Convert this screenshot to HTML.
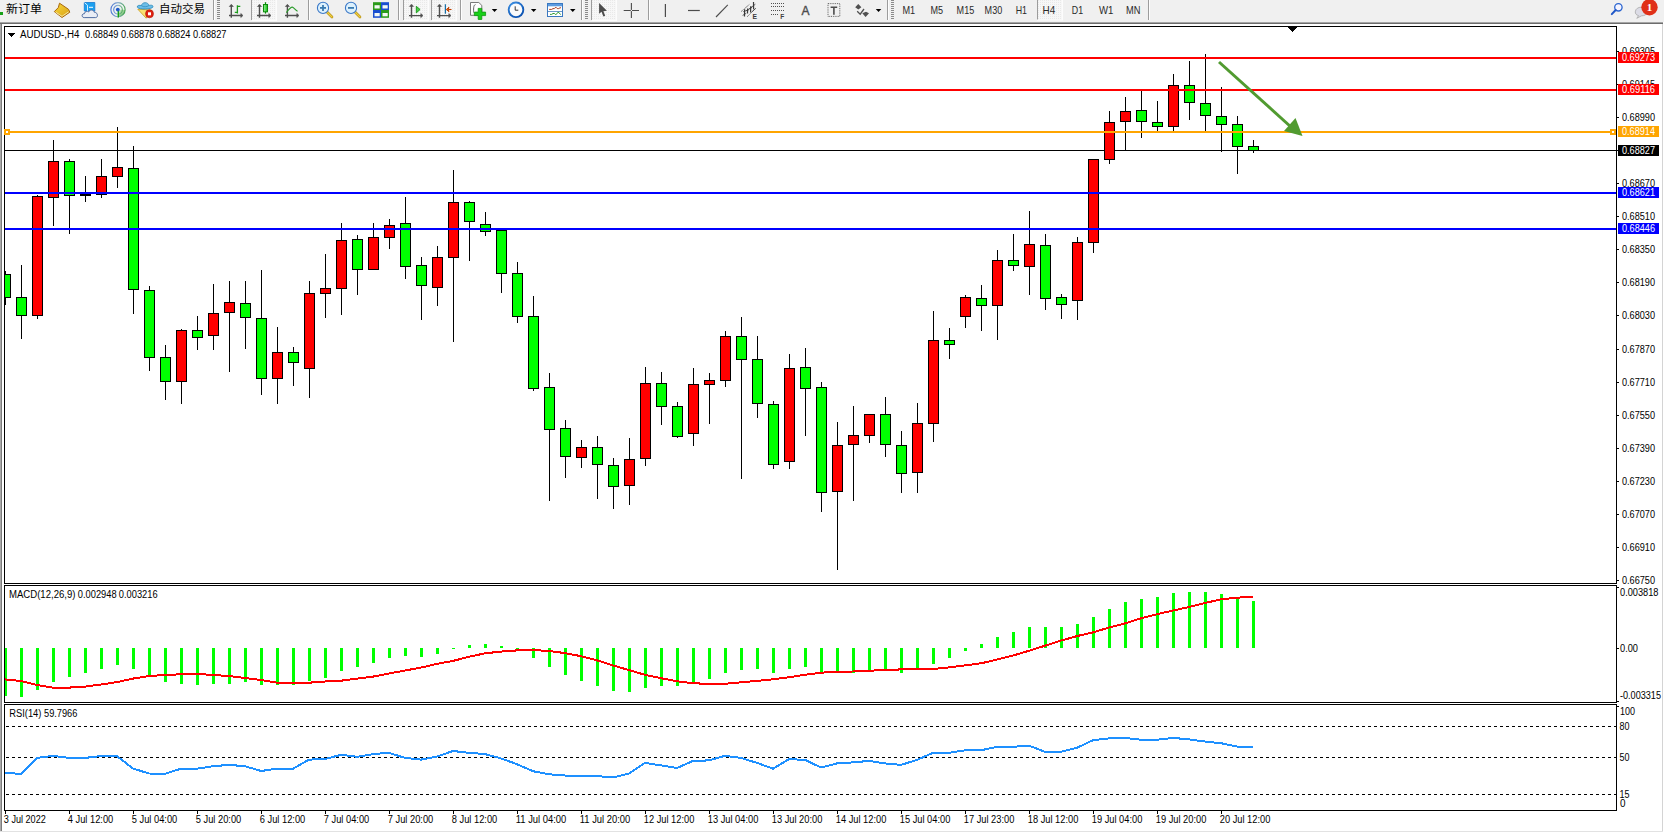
<!DOCTYPE html>
<html><head><meta charset="utf-8"><title>AUDUSD-,H4</title>
<style>
html,body{margin:0;padding:0;}
body{width:1664px;height:833px;overflow:hidden;background:#fff;position:relative;}
svg{position:absolute;left:0;top:0;display:block;}
svg text{font-family:"Liberation Sans","Noto Sans CJK SC",sans-serif;}
</style></head><body>
<svg width="1664" height="833" viewBox="0 0 1664 833" shape-rendering="crispEdges">
<defs>
<clipPath id="cm"><rect x="5" y="27" width="1611" height="556"/></clipPath>
<clipPath id="cmacd"><rect x="5" y="586" width="1611" height="116"/></clipPath>
<clipPath id="crsi"><rect x="5" y="705" width="1611" height="105"/></clipPath>
</defs>
<!-- window chrome -->
<rect x="0" y="0" width="1664" height="22" fill="#f0f0f0"/>
<rect x="0" y="22" width="1663" height="1" fill="#a5a5a5"/>
<rect x="0" y="23" width="1663" height="1" fill="#6c6c6c"/>
<rect x="0" y="24" width="1" height="807" fill="#a9a9a9"/>
<rect x="1" y="24" width="1" height="807" fill="#7c7c7c"/>
<rect x="1662" y="24" width="1" height="808" fill="#d4d4d4"/>
<rect x="0" y="831" width="1663" height="1" fill="#e2e2e2"/>
<g shape-rendering="auto">
<defs><pattern id="chk" width="2" height="2" patternUnits="userSpaceOnUse"><rect width="2" height="2" fill="#f7f7f7"/><rect width="1" height="1" fill="#e9e9e9"/></pattern><linearGradient id="gold" x1="0" y1="0" x2="1" y2="1"><stop offset="0" stop-color="#f8d838"/><stop offset="1" stop-color="#d8a018"/></linearGradient><linearGradient id="cand" x1="0" y1="0" x2="1" y2="0"><stop offset="0" stop-color="#9af09a"/><stop offset="1" stop-color="#10c010"/></linearGradient><radialGradient id="clk" cx="0.4" cy="0.35" r="0.7"><stop offset="0" stop-color="#5cb6ff"/><stop offset="1" stop-color="#0a50b0"/></radialGradient><radialGradient id="rad" cx="0.5" cy="0.5" r="0.5"><stop offset="0" stop-color="#eef4f8"/><stop offset="1" stop-color="#c9ddd0"/></radialGradient></defs>
<rect x="0" y="12" width="3" height="3" fill="#18a018"/>
<text x="6" y="13.3" font-size="11.5" fill="#000" textLength="36" lengthAdjust="spacingAndGlyphs" style="font-family:'Noto Sans CJK SC',sans-serif">新订单</text>
<path d="M59.5 3.2L68.5 9.3L69.8 12.2L62 17.5L54.3 11.6L58.3 7.6Z" fill="url(#gold)" stroke="#a8680e" stroke-width="1"/>
<path d="M55.5 12L62 16.3L68.6 11.8" stroke="#f6e6a0" stroke-width="1" fill="none"/>
<path d="M84.3 2.5H94.8V11H84.3Z" fill="#1aa0f0" stroke="#1478d0" stroke-width="0.8"/>
<path d="M84.5 2.7L87.5 5.2V11" stroke="#e6f6ff" stroke-width="0.9" fill="none"/>
<path d="M89 7.3H93" stroke="#ffffff" stroke-width="1"/>
<path d="M84.2 17.6C81.4 17.6 81.3 13.4 84.4 13.7C84.5 11.3 87.6 10.6 88.6 12C89.6 9.3 93.8 9.4 94.2 12.2C97.8 11.9 98.6 17.6 95.6 17.6Z" fill="#e9edf5" stroke="#3f5f98" stroke-width="0.9"/>
<defs><linearGradient id="rg" x1="0" y1="0" x2="1" y2="0"><stop offset="0" stop-color="#2d5fd0"/><stop offset="0.5" stop-color="#7aa0c8"/><stop offset="1" stop-color="#2f9a3c"/></linearGradient><linearGradient id="rq" x1="0" y1="0" x2="1" y2="1"><stop offset="0" stop-color="#d8efd4"/><stop offset="1" stop-color="#4cae4c"/></linearGradient></defs>
<circle cx="118" cy="9.7" r="7.3" fill="#eef3f1"/>
<path d="M118 9.7V17A7.3 7.3 0 0 0 125.3 9.7Z" fill="url(#rq)"/>
<circle cx="118" cy="9.7" r="7.1" fill="none" stroke="url(#rg)" stroke-width="1.1" opacity="0.85"/>
<circle cx="118" cy="9.7" r="4.3" fill="none" stroke="url(#rg)" stroke-width="1.1" opacity="0.75"/>
<path d="M118.3 10V17.4" stroke="#16a016" stroke-width="1.4"/>
<circle cx="117.8" cy="9.6" r="1.9" fill="#2058c8"/>
<path d="M137.8 9.2L146.2 18.2L151.5 10Z" fill="#f8e070" stroke="#c89a18" stroke-width="0.8"/>
<path d="M137.3 7.2C136.8 5.3 139.5 5 141.5 5.6C141.8 1.8 148.5 1.6 148.8 5.5C151.5 4.8 153.6 5.3 152.8 7.2C151.8 9.2 139 10 137.3 7.2Z" fill="#6cbde8" stroke="#2a88b8" stroke-width="0.8"/>
<path d="M141.6 5.8C143.5 7.2 147 7 148.8 5.6" stroke="#2a88b8" stroke-width="0.7" fill="none"/>
<circle cx="149.5" cy="13.8" r="4" fill="#e02010" stroke="#b01808" stroke-width="0.6"/>
<rect x="148" y="12.3" width="3" height="3" fill="#fff"/>
<text x="159" y="13.3" font-size="11.5" fill="#000" textLength="46" lengthAdjust="spacingAndGlyphs" style="font-family:'Noto Sans CJK SC',sans-serif">自动交易</text>
<rect x="213" y="0" width="1" height="20" fill="#9c9c9c"/>
<rect x="214" y="0" width="1" height="20" fill="#fdfdfd"/>
<rect x="217" y="0" width="3" height="1" fill="#8a8a8a"/>
<rect x="217" y="2" width="3" height="1" fill="#8a8a8a"/>
<rect x="217" y="4" width="3" height="1" fill="#8a8a8a"/>
<rect x="217" y="6" width="3" height="1" fill="#8a8a8a"/>
<rect x="217" y="8" width="3" height="1" fill="#8a8a8a"/>
<rect x="217" y="10" width="3" height="1" fill="#8a8a8a"/>
<rect x="217" y="12" width="3" height="1" fill="#8a8a8a"/>
<rect x="217" y="14" width="3" height="1" fill="#8a8a8a"/>
<rect x="217" y="16" width="3" height="1" fill="#8a8a8a"/>
<rect x="217" y="18" width="3" height="1" fill="#8a8a8a"/>
<path d="M231.3 5.3V17.8M229 15.5H242" stroke="#4f4f4f" stroke-width="1.4" fill="none"/>
<path d="M229.3 6.5L231.3 4.3L233.3 6.5Z" fill="#4f4f4f" stroke="#4f4f4f" stroke-width="0.6"/>
<path d="M240.8 13.5L243 15.5L240.8 17.5Z" fill="#4f4f4f" stroke="#4f4f4f" stroke-width="0.6"/>
<path d="M237.4 5.3V13.6M237.4 6.4H240.3M234.8 12.4H237.4" stroke="#1c9c1c" stroke-width="1.3" fill="none"/>
<rect x="251" y="0" width="1" height="20" fill="#9c9c9c"/>
<rect x="252" y="0" width="1" height="20" fill="#fdfdfd"/>
<rect x="252" y="0" width="24" height="20" fill="url(#chk)"/>
<rect x="252" y="20" width="25" height="1" fill="#fcfcfc"/>
<rect x="276" y="0" width="1" height="20" fill="#fcfcfc"/>
<path d="M259.5 5.3V17.8M257 15.5H270" stroke="#4f4f4f" stroke-width="1.4" fill="none"/>
<path d="M257.5 6.5L259.5 4.3L261.5 6.5Z" fill="#4f4f4f" stroke="#4f4f4f" stroke-width="0.6"/>
<path d="M268.8 13.5L271 15.5L268.8 17.5Z" fill="#4f4f4f" stroke="#4f4f4f" stroke-width="0.6"/>
<path d="M265.5 2.2V13.6" stroke="#0c8c0c" stroke-width="1.2"/>
<rect x="263.5" y="4.5" width="4" height="7.3" fill="url(#cand)" stroke="#0c8c0c" stroke-width="1"/>
<path d="M287.4 5.3V17.8M285 15.5H298" stroke="#4f4f4f" stroke-width="1.4" fill="none"/>
<path d="M285.4 6.5L287.4 4.3L289.4 6.5Z" fill="#4f4f4f" stroke="#4f4f4f" stroke-width="0.6"/>
<path d="M296.8 13.5L299 15.5L296.8 17.5Z" fill="#4f4f4f" stroke="#4f4f4f" stroke-width="0.6"/>
<path d="M286.3 12.6C288.5 10 290.5 6.8 292.3 7.1C294.2 7.4 295.5 10.6 297.6 11.3" stroke="#2c9c2c" stroke-width="1.1" fill="none"/>
<rect x="308" y="0" width="1" height="20" fill="#9c9c9c"/>
<rect x="309" y="0" width="1" height="20" fill="#fdfdfd"/>
<path d="M326.5 11.5L332 17" stroke="#b08a10" stroke-width="2.6" stroke-linecap="round"/>
<path d="M326.5 11.5L332 17" stroke="#f0d040" stroke-width="1.4" stroke-linecap="round"/>
<circle cx="323" cy="7.9" r="5.6" fill="#dcf0fc" stroke="#3a78c8" stroke-width="1.1"/>
<path d="M320 7.9H326" stroke="#3a7ab0" stroke-width="1.8"/>
<path d="M323 4.9V10.9" stroke="#3a7ab0" stroke-width="1.8"/>
<path d="M354.5 11.5L360 17" stroke="#b08a10" stroke-width="2.6" stroke-linecap="round"/>
<path d="M354.5 11.5L360 17" stroke="#f0d040" stroke-width="1.4" stroke-linecap="round"/>
<circle cx="351" cy="7.9" r="5.6" fill="#dcf0fc" stroke="#3a78c8" stroke-width="1.1"/>
<path d="M348 7.9H354" stroke="#3a7ab0" stroke-width="1.8"/>
<rect x="373" y="2.2" width="8" height="7.8" fill="#2a9a1a"/><rect x="381" y="2.2" width="8" height="7.8" fill="#1a4ed0"/>
<rect x="373" y="10" width="8" height="7.8" fill="#1a4ed0"/><rect x="381" y="10" width="8" height="7.8" fill="#2a9a1a"/>
<rect x="374.5" y="5.2" width="5.2" height="3.3" fill="#f4f8f4"/>
<rect x="382.5" y="5.2" width="5.2" height="3.3" fill="#f4f8f4"/>
<rect x="374.5" y="13" width="5.2" height="3.3" fill="#f4f8f4"/>
<rect x="382.5" y="13" width="5.2" height="3.3" fill="#f4f8f4"/>
<rect x="398" y="0" width="1" height="20" fill="#9c9c9c"/>
<rect x="399" y="0" width="1" height="20" fill="#fdfdfd"/>
<rect x="403" y="0" width="1" height="20" fill="#9c9c9c"/>
<rect x="404" y="0" width="1" height="20" fill="#fdfdfd"/>
<rect x="404" y="0" width="24" height="20" fill="url(#chk)"/>
<rect x="404" y="20" width="25" height="1" fill="#fcfcfc"/>
<rect x="428" y="0" width="1" height="20" fill="#fcfcfc"/>
<path d="M411.5 5.2V17.8M409 15.6H422" stroke="#4f4f4f" stroke-width="1.4" fill="none"/>
<path d="M409.5 6.4L411.5 4.2L413.5 6.4Z" fill="#4f4f4f" stroke="#4f4f4f" stroke-width="0.6"/>
<path d="M420.8 13.6L423 15.6L420.8 17.6Z" fill="#4f4f4f" stroke="#4f4f4f" stroke-width="0.6"/>
<path d="M416.3 6.3V12.9L420.1 9.5Z" fill="#48d048" stroke="#149414" stroke-width="0.9"/>
<rect x="431" y="0" width="1" height="20" fill="#9c9c9c"/>
<rect x="432" y="0" width="1" height="20" fill="#fdfdfd"/>
<rect x="432" y="0" width="24" height="20" fill="url(#chk)"/>
<rect x="432" y="20" width="25" height="1" fill="#fcfcfc"/>
<rect x="456" y="0" width="1" height="20" fill="#fcfcfc"/>
<path d="M439.5 5.2V17.8M437 15.6H450" stroke="#4f4f4f" stroke-width="1.4" fill="none"/>
<path d="M437.5 6.4L439.5 4.2L441.5 6.4Z" fill="#4f4f4f" stroke="#4f4f4f" stroke-width="0.6"/>
<path d="M448.8 13.6L451 15.6L448.8 17.6Z" fill="#4f4f4f" stroke="#4f4f4f" stroke-width="0.6"/>
<path d="M445.4 4.2V13.8" stroke="#1870a8" stroke-width="1.2"/>
<path d="M446.4 9.5L449 7.3L448.3 9.5H451.5M446.4 9.5L449 11.7L448.3 9.5" stroke="#c04000" stroke-width="1" fill="#f07020"/>
<rect x="460" y="0" width="1" height="20" fill="#9c9c9c"/>
<rect x="461" y="0" width="1" height="20" fill="#fdfdfd"/>
<path d="M470.5 2.5H478.8L481.8 5.4V15.3H470.5Z" fill="#fdfdfd" stroke="#6a6a6a" stroke-width="0.9"/>
<path d="M473.5 12.5C473.8 10 473 5 475.5 4.6" stroke="#404040" stroke-width="0.8" fill="none"/>
<path d="M478.2 8.4H481.8V12.1H485.6V15.6H481.8V19.4H478.2V15.6H474.3V12.1H478.2Z" fill="#18d018" stroke="#0e960e" stroke-width="0.8"/>
<path d="M491.8 9H497.3L494.55 12Z" fill="#000"/>
<circle cx="516" cy="9.8" r="7.3" fill="#fbfbfb" stroke="url(#clk)" stroke-width="1.9"/>
<path d="M515.2 6.3V10.2H518.3" stroke="#202020" stroke-width="0.9" fill="none"/>
<path d="M530.9 9H536.4L533.65 12Z" fill="#000"/>
<rect x="547.5" y="3.5" width="15" height="13" fill="#fff" stroke="#3a78c0" stroke-width="1"/>
<rect x="548" y="4" width="14" height="2.3" fill="#5d9ce0"/>
<rect x="548" y="11" width="14" height="1" fill="#6a98c8"/>
<path d="M549.2 9.4H551.7L553 8.6H554.3L555.2 7.6H556.4L557.3 8.6H558.6L560 7.8H561" stroke="#a02a08" stroke-width="0.9" fill="none"/>
<path d="M550 14.4H551.6L553 13.5H554.4L555.3 14.4H556.3L557.8 12.4H558.8L560.6 14.6" stroke="#169016" stroke-width="0.9" fill="none"/>
<path d="M570 9H575.5L572.75 12Z" fill="#000"/>
<rect x="581" y="0" width="1" height="20" fill="#9c9c9c"/>
<rect x="582" y="0" width="1" height="20" fill="#fdfdfd"/>
<rect x="585" y="0" width="3" height="1" fill="#8a8a8a"/>
<rect x="585" y="2" width="3" height="1" fill="#8a8a8a"/>
<rect x="585" y="4" width="3" height="1" fill="#8a8a8a"/>
<rect x="585" y="6" width="3" height="1" fill="#8a8a8a"/>
<rect x="585" y="8" width="3" height="1" fill="#8a8a8a"/>
<rect x="585" y="10" width="3" height="1" fill="#8a8a8a"/>
<rect x="585" y="12" width="3" height="1" fill="#8a8a8a"/>
<rect x="585" y="14" width="3" height="1" fill="#8a8a8a"/>
<rect x="585" y="16" width="3" height="1" fill="#8a8a8a"/>
<rect x="585" y="18" width="3" height="1" fill="#8a8a8a"/>
<rect x="591" y="0" width="1" height="20" fill="#9c9c9c"/>
<rect x="592" y="0" width="1" height="20" fill="#fdfdfd"/>
<rect x="592" y="0" width="24" height="20" fill="url(#chk)"/>
<rect x="592" y="20" width="25" height="1" fill="#fcfcfc"/>
<rect x="616" y="0" width="1" height="20" fill="#fcfcfc"/>
<path d="M599.1 2.9V13.8L601.5 11.8L603.4 16.6L605.2 15.8L603.4 11.2L606.9 10.8Z" fill="#4c4c4c"/>
<path d="M631.4 3V18M623.7 10.5H639" stroke="#4c4c4c" stroke-width="1.1"/>
<rect x="630.8" y="9.9" width="1.2" height="1.2" fill="#f0f0f0"/>
<rect x="648" y="0" width="1" height="20" fill="#9c9c9c"/>
<rect x="649" y="0" width="1" height="20" fill="#fdfdfd"/>
<path d="M665.4 4V17" stroke="#4c4c4c" stroke-width="1.2"/>
<path d="M688 10.5H699.8" stroke="#4c4c4c" stroke-width="1.2"/>
<path d="M716 17L727.8 4.9" stroke="#4c4c4c" stroke-width="1.1"/>
<path d="M741.3 11.4L749.7 4.2M747.3 16.6L755.8 8.3" stroke="#3a3a3a" stroke-width="0.9" stroke-dasharray="0.9 0.7" fill="none"/>
<path d="M744.5 16.6L744.6 9.3M747.5 13.6L747.6 8.4M750.6 12.6L750.7 6.2M753.6 9.2L753.5 2.1" stroke="#3a3a3a" stroke-width="1.2" fill="none"/>
<path d="M742.6 15.4L746.2 13.3M743.3 11.6L748.9 9.8M746.3 10.6L752.2 7.2M749.4 8.7L755.4 4.2M751.7 12L755.6 8.4" stroke="#3a3a3a" stroke-width="0.8" fill="none"/>
<text x="752.6" y="18.7" font-size="6.8" font-weight="bold" fill="#3a3a3a" style="font-family:'Liberation Sans',sans-serif">E</text>
<rect x="771" y="3" width="1" height="1" fill="#505050" shape-rendering="crispEdges"/>
<rect x="773" y="3" width="1" height="1" fill="#505050" shape-rendering="crispEdges"/>
<rect x="775" y="3" width="1" height="1" fill="#505050" shape-rendering="crispEdges"/>
<rect x="777" y="3" width="1" height="1" fill="#505050" shape-rendering="crispEdges"/>
<rect x="779" y="3" width="1" height="1" fill="#505050" shape-rendering="crispEdges"/>
<rect x="781" y="3" width="1" height="1" fill="#505050" shape-rendering="crispEdges"/>
<rect x="783" y="3" width="1" height="1" fill="#505050" shape-rendering="crispEdges"/>
<rect x="771" y="6" width="1" height="1" fill="#505050" shape-rendering="crispEdges"/>
<rect x="773" y="6" width="1" height="1" fill="#505050" shape-rendering="crispEdges"/>
<rect x="775" y="6" width="1" height="1" fill="#505050" shape-rendering="crispEdges"/>
<rect x="777" y="6" width="1" height="1" fill="#505050" shape-rendering="crispEdges"/>
<rect x="779" y="6" width="1" height="1" fill="#505050" shape-rendering="crispEdges"/>
<rect x="781" y="6" width="1" height="1" fill="#505050" shape-rendering="crispEdges"/>
<rect x="783" y="6" width="1" height="1" fill="#505050" shape-rendering="crispEdges"/>
<rect x="771" y="10" width="1" height="1" fill="#505050" shape-rendering="crispEdges"/>
<rect x="773" y="10" width="1" height="1" fill="#505050" shape-rendering="crispEdges"/>
<rect x="775" y="10" width="1" height="1" fill="#505050" shape-rendering="crispEdges"/>
<rect x="777" y="10" width="1" height="1" fill="#505050" shape-rendering="crispEdges"/>
<rect x="779" y="10" width="1" height="1" fill="#505050" shape-rendering="crispEdges"/>
<rect x="781" y="10" width="1" height="1" fill="#505050" shape-rendering="crispEdges"/>
<rect x="783" y="10" width="1" height="1" fill="#505050" shape-rendering="crispEdges"/>
<rect x="771" y="14" width="1" height="1" fill="#505050" shape-rendering="crispEdges"/>
<rect x="773" y="14" width="1" height="1" fill="#505050" shape-rendering="crispEdges"/>
<rect x="775" y="14" width="1" height="1" fill="#505050" shape-rendering="crispEdges"/>
<rect x="777" y="14" width="1" height="1" fill="#505050" shape-rendering="crispEdges"/>
<text x="780.3" y="18.9" font-size="6.5" font-weight="bold" fill="#404040" style="font-family:'Liberation Sans',sans-serif">F</text>
<text x="801.6" y="15" font-size="12" fill="#4c4c4c" stroke="#4c4c4c" stroke-width="0.35" style="font-family:'Liberation Sans',sans-serif">A</text>
<rect x="828" y="3.6" width="11.8" height="12.8" fill="none" stroke="#4c4c4c" stroke-width="0.9" stroke-dasharray="0.9 0.9"/>
<path d="M830.6 7.2H837.2M833.9 7.2V14.8" stroke="#4c4c4c" stroke-width="1.6"/>
<path d="M855.2 7.2L858.3 4L861.4 7.2L858.3 9.4Z" fill="#505050"/>
<path d="M857.2 11.3L860.2 14.2L864 9" stroke="#505050" stroke-width="1.3" fill="none"/>
<path d="M862.3 13.2L866 11.8L869 13.2L865.6 17Z" fill="#505050"/>
<path d="M875.8 9H881.3L878.55 12Z" fill="#000"/>
<rect x="887" y="0" width="1" height="20" fill="#9c9c9c"/>
<rect x="888" y="0" width="1" height="20" fill="#fdfdfd"/>
<rect x="891" y="0" width="3" height="1" fill="#8a8a8a"/>
<rect x="891" y="2" width="3" height="1" fill="#8a8a8a"/>
<rect x="891" y="4" width="3" height="1" fill="#8a8a8a"/>
<rect x="891" y="6" width="3" height="1" fill="#8a8a8a"/>
<rect x="891" y="8" width="3" height="1" fill="#8a8a8a"/>
<rect x="891" y="10" width="3" height="1" fill="#8a8a8a"/>
<rect x="891" y="12" width="3" height="1" fill="#8a8a8a"/>
<rect x="891" y="14" width="3" height="1" fill="#8a8a8a"/>
<rect x="891" y="16" width="3" height="1" fill="#8a8a8a"/>
<rect x="891" y="18" width="3" height="1" fill="#8a8a8a"/>
<rect x="1037" y="0" width="1" height="20" fill="#9c9c9c"/>
<rect x="1038" y="0" width="24" height="19.5" fill="url(#chk)"/>
<rect x="1037" y="19.5" width="26" height="1" fill="#fcfcfc"/><rect x="1062" y="0" width="1" height="20" fill="#fcfcfc"/>
<text x="902.5" y="14" font-size="10.1" fill="#2a2a2a" textLength="12.7" lengthAdjust="spacingAndGlyphs" style="font-family:'Liberation Sans',sans-serif">M1</text>
<text x="930.5" y="14" font-size="10.1" fill="#2a2a2a" textLength="12.6" lengthAdjust="spacingAndGlyphs" style="font-family:'Liberation Sans',sans-serif">M5</text>
<text x="956.6" y="14" font-size="10.1" fill="#2a2a2a" textLength="17.6" lengthAdjust="spacingAndGlyphs" style="font-family:'Liberation Sans',sans-serif">M15</text>
<text x="984.6" y="14" font-size="10.1" fill="#2a2a2a" textLength="17.6" lengthAdjust="spacingAndGlyphs" style="font-family:'Liberation Sans',sans-serif">M30</text>
<text x="1015.7" y="14" font-size="10.1" fill="#2a2a2a" textLength="11.3" lengthAdjust="spacingAndGlyphs" style="font-family:'Liberation Sans',sans-serif">H1</text>
<text x="1042.5" y="14" font-size="10.1" fill="#2a2a2a" textLength="12.7" lengthAdjust="spacingAndGlyphs" style="font-family:'Liberation Sans',sans-serif">H4</text>
<text x="1071.8" y="14" font-size="10.1" fill="#2a2a2a" textLength="11.3" lengthAdjust="spacingAndGlyphs" style="font-family:'Liberation Sans',sans-serif">D1</text>
<text x="1098.9" y="14" font-size="10.1" fill="#2a2a2a" textLength="14.4" lengthAdjust="spacingAndGlyphs" style="font-family:'Liberation Sans',sans-serif">W1</text>
<text x="1126" y="14" font-size="10.1" fill="#2a2a2a" textLength="14.4" lengthAdjust="spacingAndGlyphs" style="font-family:'Liberation Sans',sans-serif">MN</text>
<rect x="1148" y="0" width="1" height="20" fill="#9c9c9c"/>
<rect x="1149" y="0" width="1" height="20" fill="#fdfdfd"/>
<circle cx="1618.4" cy="7.3" r="3.7" fill="#f4f4ff" stroke="#2a64d0" stroke-width="1.3"/>
<path d="M1615.7 10L1611.8 14.1" stroke="#2058c8" stroke-width="2" stroke-linecap="round"/>
<path d="M1636.8 18.3L1638.6 15.6C1636 15 1635.2 13.6 1635.3 11.8C1635.5 8.6 1638.5 7.2 1641 7.2H1643C1646.5 7.2 1647.5 10 1647 12.6C1646.5 15 1644 15.8 1641.5 15.8Z" fill="#dcdce6" stroke="#a8a8a8" stroke-width="0.8"/>
<circle cx="1649.5" cy="7.3" r="8.2" fill="#e03018"/>
<text x="1649.5" y="11.4" font-size="11" font-weight="bold" fill="#fff" text-anchor="middle" style="font-family:'Liberation Serif',serif">1</text>
</g>
<g>
<rect x="4" y="26" width="1613" height="1" fill="#000"/>
<rect x="4" y="583" width="1613" height="1" fill="#000"/>
<rect x="4" y="26" width="1" height="558" fill="#000"/>
<rect x="1616" y="26" width="1" height="558" fill="#000"/>
<rect x="4" y="585" width="1613" height="1" fill="#000"/>
<rect x="4" y="702" width="1613" height="1" fill="#000"/>
<rect x="4" y="585" width="1" height="118" fill="#000"/>
<rect x="1616" y="585" width="1" height="118" fill="#000"/>
<rect x="4" y="704" width="1613" height="1" fill="#000"/>
<rect x="4" y="810" width="1613" height="1" fill="#000"/>
<rect x="4" y="704" width="1" height="107" fill="#000"/>
<rect x="1616" y="704" width="1" height="107" fill="#000"/>
<rect x="5" y="150" width="1611" height="1" fill="#000"/>
<g clip-path="url(#cm)">
<rect x="5" y="271" width="1" height="34" fill="#000"/>
<rect x="0" y="274" width="11" height="24" fill="#000"/>
<rect x="1" y="275" width="9" height="22" fill="#00ff00"/>
<rect x="21" y="265" width="1" height="74" fill="#000"/>
<rect x="16" y="297" width="11" height="19" fill="#000"/>
<rect x="17" y="298" width="9" height="17" fill="#00ff00"/>
<rect x="37" y="195" width="1" height="124" fill="#000"/>
<rect x="32" y="196" width="11" height="120" fill="#000"/>
<rect x="33" y="197" width="9" height="118" fill="#ff0000"/>
<rect x="53" y="140" width="1" height="86" fill="#000"/>
<rect x="48" y="161" width="11" height="37" fill="#000"/>
<rect x="49" y="162" width="9" height="35" fill="#ff0000"/>
<rect x="69" y="159" width="1" height="75" fill="#000"/>
<rect x="64" y="161" width="11" height="35" fill="#000"/>
<rect x="65" y="162" width="9" height="33" fill="#00ff00"/>
<rect x="85" y="176" width="1" height="26" fill="#000"/>
<rect x="80" y="194" width="11" height="2" fill="#000"/>
<rect x="101" y="159" width="1" height="39" fill="#000"/>
<rect x="96" y="176" width="11" height="19" fill="#000"/>
<rect x="97" y="177" width="9" height="17" fill="#ff0000"/>
<rect x="117" y="127" width="1" height="61" fill="#000"/>
<rect x="112" y="167" width="11" height="10" fill="#000"/>
<rect x="113" y="168" width="9" height="8" fill="#ff0000"/>
<rect x="133" y="146" width="1" height="168" fill="#000"/>
<rect x="128" y="168" width="11" height="122" fill="#000"/>
<rect x="129" y="169" width="9" height="120" fill="#00ff00"/>
<rect x="149" y="286" width="1" height="85" fill="#000"/>
<rect x="144" y="290" width="11" height="68" fill="#000"/>
<rect x="145" y="291" width="9" height="66" fill="#00ff00"/>
<rect x="165" y="345" width="1" height="55" fill="#000"/>
<rect x="160" y="357" width="11" height="25" fill="#000"/>
<rect x="161" y="358" width="9" height="23" fill="#00ff00"/>
<rect x="181" y="329" width="1" height="75" fill="#000"/>
<rect x="176" y="330" width="11" height="52" fill="#000"/>
<rect x="177" y="331" width="9" height="50" fill="#ff0000"/>
<rect x="197" y="316" width="1" height="34" fill="#000"/>
<rect x="192" y="330" width="11" height="8" fill="#000"/>
<rect x="193" y="331" width="9" height="6" fill="#00ff00"/>
<rect x="213" y="284" width="1" height="66" fill="#000"/>
<rect x="208" y="313" width="11" height="23" fill="#000"/>
<rect x="209" y="314" width="9" height="21" fill="#ff0000"/>
<rect x="229" y="281" width="1" height="91" fill="#000"/>
<rect x="224" y="302" width="11" height="11" fill="#000"/>
<rect x="225" y="303" width="9" height="9" fill="#ff0000"/>
<rect x="245" y="281" width="1" height="68" fill="#000"/>
<rect x="240" y="303" width="11" height="15" fill="#000"/>
<rect x="241" y="304" width="9" height="13" fill="#00ff00"/>
<rect x="261" y="270" width="1" height="125" fill="#000"/>
<rect x="256" y="318" width="11" height="61" fill="#000"/>
<rect x="257" y="319" width="9" height="59" fill="#00ff00"/>
<rect x="277" y="327" width="1" height="77" fill="#000"/>
<rect x="272" y="352" width="11" height="27" fill="#000"/>
<rect x="273" y="353" width="9" height="25" fill="#ff0000"/>
<rect x="293" y="347" width="1" height="39" fill="#000"/>
<rect x="288" y="352" width="11" height="11" fill="#000"/>
<rect x="289" y="353" width="9" height="9" fill="#00ff00"/>
<rect x="309" y="281" width="1" height="117" fill="#000"/>
<rect x="304" y="293" width="11" height="76" fill="#000"/>
<rect x="305" y="294" width="9" height="74" fill="#ff0000"/>
<rect x="325" y="254" width="1" height="64" fill="#000"/>
<rect x="320" y="288" width="11" height="6" fill="#000"/>
<rect x="321" y="289" width="9" height="4" fill="#ff0000"/>
<rect x="341" y="223" width="1" height="92" fill="#000"/>
<rect x="336" y="240" width="11" height="49" fill="#000"/>
<rect x="337" y="241" width="9" height="47" fill="#ff0000"/>
<rect x="357" y="235" width="1" height="60" fill="#000"/>
<rect x="352" y="239" width="11" height="31" fill="#000"/>
<rect x="353" y="240" width="9" height="29" fill="#00ff00"/>
<rect x="373" y="223" width="1" height="47" fill="#000"/>
<rect x="368" y="237" width="11" height="33" fill="#000"/>
<rect x="369" y="238" width="9" height="31" fill="#ff0000"/>
<rect x="389" y="219" width="1" height="30" fill="#000"/>
<rect x="384" y="225" width="11" height="13" fill="#000"/>
<rect x="385" y="226" width="9" height="11" fill="#ff0000"/>
<rect x="405" y="197" width="1" height="82" fill="#000"/>
<rect x="400" y="223" width="11" height="44" fill="#000"/>
<rect x="401" y="224" width="9" height="42" fill="#00ff00"/>
<rect x="421" y="257" width="1" height="63" fill="#000"/>
<rect x="416" y="265" width="11" height="21" fill="#000"/>
<rect x="417" y="266" width="9" height="19" fill="#00ff00"/>
<rect x="437" y="246" width="1" height="60" fill="#000"/>
<rect x="432" y="257" width="11" height="31" fill="#000"/>
<rect x="433" y="258" width="9" height="29" fill="#ff0000"/>
<rect x="453" y="170" width="1" height="172" fill="#000"/>
<rect x="448" y="202" width="11" height="56" fill="#000"/>
<rect x="449" y="203" width="9" height="54" fill="#ff0000"/>
<rect x="469" y="201" width="1" height="60" fill="#000"/>
<rect x="464" y="202" width="11" height="20" fill="#000"/>
<rect x="465" y="203" width="9" height="18" fill="#00ff00"/>
<rect x="485" y="212" width="1" height="24" fill="#000"/>
<rect x="480" y="224" width="11" height="8" fill="#000"/>
<rect x="481" y="225" width="9" height="6" fill="#00ff00"/>
<rect x="501" y="230" width="1" height="63" fill="#000"/>
<rect x="496" y="230" width="11" height="44" fill="#000"/>
<rect x="497" y="231" width="9" height="42" fill="#00ff00"/>
<rect x="517" y="262" width="1" height="61" fill="#000"/>
<rect x="512" y="273" width="11" height="44" fill="#000"/>
<rect x="513" y="274" width="9" height="42" fill="#00ff00"/>
<rect x="533" y="296" width="1" height="95" fill="#000"/>
<rect x="528" y="316" width="11" height="73" fill="#000"/>
<rect x="529" y="317" width="9" height="71" fill="#00ff00"/>
<rect x="549" y="373" width="1" height="128" fill="#000"/>
<rect x="544" y="387" width="11" height="43" fill="#000"/>
<rect x="545" y="388" width="9" height="41" fill="#00ff00"/>
<rect x="565" y="420" width="1" height="58" fill="#000"/>
<rect x="560" y="428" width="11" height="29" fill="#000"/>
<rect x="561" y="429" width="9" height="27" fill="#00ff00"/>
<rect x="581" y="440" width="1" height="28" fill="#000"/>
<rect x="576" y="447" width="11" height="11" fill="#000"/>
<rect x="577" y="448" width="9" height="9" fill="#ff0000"/>
<rect x="597" y="436" width="1" height="63" fill="#000"/>
<rect x="592" y="447" width="11" height="18" fill="#000"/>
<rect x="593" y="448" width="9" height="16" fill="#00ff00"/>
<rect x="613" y="458" width="1" height="51" fill="#000"/>
<rect x="608" y="465" width="11" height="22" fill="#000"/>
<rect x="609" y="466" width="9" height="20" fill="#00ff00"/>
<rect x="629" y="438" width="1" height="67" fill="#000"/>
<rect x="624" y="459" width="11" height="27" fill="#000"/>
<rect x="625" y="460" width="9" height="25" fill="#ff0000"/>
<rect x="645" y="367" width="1" height="99" fill="#000"/>
<rect x="640" y="383" width="11" height="76" fill="#000"/>
<rect x="641" y="384" width="9" height="74" fill="#ff0000"/>
<rect x="661" y="372" width="1" height="53" fill="#000"/>
<rect x="656" y="383" width="11" height="24" fill="#000"/>
<rect x="657" y="384" width="9" height="22" fill="#00ff00"/>
<rect x="677" y="402" width="1" height="36" fill="#000"/>
<rect x="672" y="406" width="11" height="31" fill="#000"/>
<rect x="673" y="407" width="9" height="29" fill="#00ff00"/>
<rect x="693" y="368" width="1" height="78" fill="#000"/>
<rect x="688" y="384" width="11" height="50" fill="#000"/>
<rect x="689" y="385" width="9" height="48" fill="#ff0000"/>
<rect x="709" y="373" width="1" height="51" fill="#000"/>
<rect x="704" y="380" width="11" height="5" fill="#000"/>
<rect x="705" y="381" width="9" height="3" fill="#ff0000"/>
<rect x="725" y="331" width="1" height="56" fill="#000"/>
<rect x="720" y="336" width="11" height="45" fill="#000"/>
<rect x="721" y="337" width="9" height="43" fill="#ff0000"/>
<rect x="741" y="317" width="1" height="162" fill="#000"/>
<rect x="736" y="336" width="11" height="24" fill="#000"/>
<rect x="737" y="337" width="9" height="22" fill="#00ff00"/>
<rect x="757" y="336" width="1" height="82" fill="#000"/>
<rect x="752" y="359" width="11" height="45" fill="#000"/>
<rect x="753" y="360" width="9" height="43" fill="#00ff00"/>
<rect x="773" y="401" width="1" height="68" fill="#000"/>
<rect x="768" y="404" width="11" height="61" fill="#000"/>
<rect x="769" y="405" width="9" height="59" fill="#00ff00"/>
<rect x="789" y="354" width="1" height="115" fill="#000"/>
<rect x="784" y="368" width="11" height="94" fill="#000"/>
<rect x="785" y="369" width="9" height="92" fill="#ff0000"/>
<rect x="805" y="348" width="1" height="88" fill="#000"/>
<rect x="800" y="367" width="11" height="22" fill="#000"/>
<rect x="801" y="368" width="9" height="20" fill="#00ff00"/>
<rect x="821" y="382" width="1" height="130" fill="#000"/>
<rect x="816" y="387" width="11" height="106" fill="#000"/>
<rect x="817" y="388" width="9" height="104" fill="#00ff00"/>
<rect x="837" y="422" width="1" height="148" fill="#000"/>
<rect x="832" y="445" width="11" height="47" fill="#000"/>
<rect x="833" y="446" width="9" height="45" fill="#ff0000"/>
<rect x="853" y="406" width="1" height="95" fill="#000"/>
<rect x="848" y="435" width="11" height="10" fill="#000"/>
<rect x="849" y="436" width="9" height="8" fill="#ff0000"/>
<rect x="869" y="414" width="1" height="29" fill="#000"/>
<rect x="864" y="414" width="11" height="22" fill="#000"/>
<rect x="865" y="415" width="9" height="20" fill="#ff0000"/>
<rect x="885" y="397" width="1" height="60" fill="#000"/>
<rect x="880" y="414" width="11" height="31" fill="#000"/>
<rect x="881" y="415" width="9" height="29" fill="#00ff00"/>
<rect x="901" y="431" width="1" height="62" fill="#000"/>
<rect x="896" y="445" width="11" height="29" fill="#000"/>
<rect x="897" y="446" width="9" height="27" fill="#00ff00"/>
<rect x="917" y="403" width="1" height="90" fill="#000"/>
<rect x="912" y="423" width="11" height="50" fill="#000"/>
<rect x="913" y="424" width="9" height="48" fill="#ff0000"/>
<rect x="933" y="311" width="1" height="131" fill="#000"/>
<rect x="928" y="340" width="11" height="84" fill="#000"/>
<rect x="929" y="341" width="9" height="82" fill="#ff0000"/>
<rect x="949" y="328" width="1" height="31" fill="#000"/>
<rect x="944" y="340" width="11" height="5" fill="#000"/>
<rect x="945" y="341" width="9" height="3" fill="#00ff00"/>
<rect x="965" y="295" width="1" height="33" fill="#000"/>
<rect x="960" y="297" width="11" height="20" fill="#000"/>
<rect x="961" y="298" width="9" height="18" fill="#ff0000"/>
<rect x="981" y="285" width="1" height="46" fill="#000"/>
<rect x="976" y="298" width="11" height="8" fill="#000"/>
<rect x="977" y="299" width="9" height="6" fill="#00ff00"/>
<rect x="997" y="250" width="1" height="90" fill="#000"/>
<rect x="992" y="260" width="11" height="46" fill="#000"/>
<rect x="993" y="261" width="9" height="44" fill="#ff0000"/>
<rect x="1013" y="234" width="1" height="37" fill="#000"/>
<rect x="1008" y="260" width="11" height="6" fill="#000"/>
<rect x="1009" y="261" width="9" height="4" fill="#00ff00"/>
<rect x="1029" y="211" width="1" height="84" fill="#000"/>
<rect x="1024" y="244" width="11" height="23" fill="#000"/>
<rect x="1025" y="245" width="9" height="21" fill="#ff0000"/>
<rect x="1045" y="234" width="1" height="76" fill="#000"/>
<rect x="1040" y="245" width="11" height="54" fill="#000"/>
<rect x="1041" y="246" width="9" height="52" fill="#00ff00"/>
<rect x="1061" y="294" width="1" height="25" fill="#000"/>
<rect x="1056" y="297" width="11" height="8" fill="#000"/>
<rect x="1057" y="298" width="9" height="6" fill="#00ff00"/>
<rect x="1077" y="237" width="1" height="83" fill="#000"/>
<rect x="1072" y="242" width="11" height="59" fill="#000"/>
<rect x="1073" y="243" width="9" height="57" fill="#ff0000"/>
<rect x="1093" y="159" width="1" height="94" fill="#000"/>
<rect x="1088" y="159" width="11" height="84" fill="#000"/>
<rect x="1089" y="160" width="9" height="82" fill="#ff0000"/>
<rect x="1109" y="111" width="1" height="53" fill="#000"/>
<rect x="1104" y="122" width="11" height="38" fill="#000"/>
<rect x="1105" y="123" width="9" height="36" fill="#ff0000"/>
<rect x="1125" y="97" width="1" height="54" fill="#000"/>
<rect x="1120" y="111" width="11" height="11" fill="#000"/>
<rect x="1121" y="112" width="9" height="9" fill="#ff0000"/>
<rect x="1141" y="91" width="1" height="47" fill="#000"/>
<rect x="1136" y="110" width="11" height="12" fill="#000"/>
<rect x="1137" y="111" width="9" height="10" fill="#00ff00"/>
<rect x="1157" y="101" width="1" height="31" fill="#000"/>
<rect x="1152" y="122" width="11" height="5" fill="#000"/>
<rect x="1153" y="123" width="9" height="3" fill="#00ff00"/>
<rect x="1173" y="74" width="1" height="58" fill="#000"/>
<rect x="1168" y="85" width="11" height="42" fill="#000"/>
<rect x="1169" y="86" width="9" height="40" fill="#ff0000"/>
<rect x="1189" y="61" width="1" height="59" fill="#000"/>
<rect x="1184" y="85" width="11" height="18" fill="#000"/>
<rect x="1185" y="86" width="9" height="16" fill="#00ff00"/>
<rect x="1205" y="54" width="1" height="78" fill="#000"/>
<rect x="1200" y="103" width="11" height="13" fill="#000"/>
<rect x="1201" y="104" width="9" height="11" fill="#00ff00"/>
<rect x="1221" y="87" width="1" height="65" fill="#000"/>
<rect x="1216" y="116" width="11" height="9" fill="#000"/>
<rect x="1217" y="117" width="9" height="7" fill="#00ff00"/>
<rect x="1237" y="116" width="1" height="58" fill="#000"/>
<rect x="1232" y="124" width="11" height="23" fill="#000"/>
<rect x="1233" y="125" width="9" height="21" fill="#00ff00"/>
<rect x="1253" y="140" width="1" height="13" fill="#000"/>
<rect x="1248" y="146" width="11" height="5" fill="#000"/>
<rect x="1249" y="147" width="9" height="3" fill="#00ff00"/>
</g>
<rect x="5" y="57" width="1611" height="2" fill="#ff0000"/>
<rect x="5" y="89" width="1611" height="2" fill="#ff0000"/>
<rect x="5" y="131" width="1611" height="2" fill="#ffa500"/>
<rect x="5" y="192" width="1611" height="2" fill="#0000ff"/>
<rect x="5" y="228" width="1611" height="2" fill="#0000ff"/>
<rect x="4" y="129" width="6" height="6" fill="#ffa500"/>
<rect x="6" y="131" width="2" height="2" fill="#fff"/>
<rect x="1610" y="129" width="6" height="6" fill="#ffa500"/>
<rect x="1612" y="131" width="2" height="2" fill="#fff"/>
<line x1="1219" y1="62" x2="1291" y2="127" stroke="#519b30" stroke-width="3" shape-rendering="geometricPrecision"/>
<polygon points="1302.5,136 1284,131 1295.5,118" fill="#519b30" shape-rendering="geometricPrecision"/>
<polygon points="1287.5,27 1297.5,27 1292.5,32.5" fill="#000"/>
<g clip-path="url(#cmacd)">
<rect x="4" y="648" width="3" height="48" fill="#00ff00"/>
<rect x="20" y="648" width="3" height="49" fill="#00ff00"/>
<rect x="36" y="648" width="3" height="42" fill="#00ff00"/>
<rect x="52" y="648" width="3" height="34" fill="#00ff00"/>
<rect x="68" y="648" width="3" height="29" fill="#00ff00"/>
<rect x="84" y="648" width="3" height="25" fill="#00ff00"/>
<rect x="100" y="648" width="3" height="21" fill="#00ff00"/>
<rect x="116" y="648" width="3" height="17" fill="#00ff00"/>
<rect x="132" y="648" width="3" height="21" fill="#00ff00"/>
<rect x="148" y="648" width="3" height="28" fill="#00ff00"/>
<rect x="164" y="648" width="3" height="34" fill="#00ff00"/>
<rect x="180" y="648" width="3" height="36" fill="#00ff00"/>
<rect x="196" y="648" width="3" height="37" fill="#00ff00"/>
<rect x="212" y="648" width="3" height="36" fill="#00ff00"/>
<rect x="228" y="648" width="3" height="36" fill="#00ff00"/>
<rect x="244" y="648" width="3" height="34" fill="#00ff00"/>
<rect x="260" y="648" width="3" height="37" fill="#00ff00"/>
<rect x="276" y="648" width="3" height="37" fill="#00ff00"/>
<rect x="292" y="648" width="3" height="37" fill="#00ff00"/>
<rect x="308" y="648" width="3" height="33" fill="#00ff00"/>
<rect x="324" y="648" width="3" height="30" fill="#00ff00"/>
<rect x="340" y="648" width="3" height="23" fill="#00ff00"/>
<rect x="356" y="648" width="3" height="19" fill="#00ff00"/>
<rect x="372" y="648" width="3" height="15" fill="#00ff00"/>
<rect x="388" y="648" width="3" height="10" fill="#00ff00"/>
<rect x="404" y="648" width="3" height="8" fill="#00ff00"/>
<rect x="420" y="648" width="3" height="9" fill="#00ff00"/>
<rect x="436" y="648" width="3" height="6" fill="#00ff00"/>
<rect x="452" y="648" width="3" height="1" fill="#00ff00"/>
<rect x="468" y="645" width="3" height="3" fill="#00ff00"/>
<rect x="484" y="644" width="3" height="4" fill="#00ff00"/>
<rect x="500" y="646" width="3" height="2" fill="#00ff00"/>
<rect x="516" y="648" width="3" height="2" fill="#00ff00"/>
<rect x="532" y="648" width="3" height="10" fill="#00ff00"/>
<rect x="548" y="648" width="3" height="19" fill="#00ff00"/>
<rect x="564" y="648" width="3" height="27" fill="#00ff00"/>
<rect x="580" y="648" width="3" height="33" fill="#00ff00"/>
<rect x="596" y="648" width="3" height="38" fill="#00ff00"/>
<rect x="612" y="648" width="3" height="43" fill="#00ff00"/>
<rect x="628" y="648" width="3" height="44" fill="#00ff00"/>
<rect x="644" y="648" width="3" height="40" fill="#00ff00"/>
<rect x="660" y="648" width="3" height="38" fill="#00ff00"/>
<rect x="676" y="648" width="3" height="38" fill="#00ff00"/>
<rect x="692" y="648" width="3" height="34" fill="#00ff00"/>
<rect x="708" y="648" width="3" height="31" fill="#00ff00"/>
<rect x="724" y="648" width="3" height="25" fill="#00ff00"/>
<rect x="740" y="648" width="3" height="22" fill="#00ff00"/>
<rect x="756" y="648" width="3" height="21" fill="#00ff00"/>
<rect x="772" y="648" width="3" height="25" fill="#00ff00"/>
<rect x="788" y="648" width="3" height="21" fill="#00ff00"/>
<rect x="804" y="648" width="3" height="19" fill="#00ff00"/>
<rect x="820" y="648" width="3" height="24" fill="#00ff00"/>
<rect x="836" y="648" width="3" height="24" fill="#00ff00"/>
<rect x="852" y="648" width="3" height="25" fill="#00ff00"/>
<rect x="868" y="648" width="3" height="22" fill="#00ff00"/>
<rect x="884" y="648" width="3" height="21" fill="#00ff00"/>
<rect x="900" y="648" width="3" height="25" fill="#00ff00"/>
<rect x="916" y="648" width="3" height="22" fill="#00ff00"/>
<rect x="932" y="648" width="3" height="16" fill="#00ff00"/>
<rect x="948" y="648" width="3" height="10" fill="#00ff00"/>
<rect x="964" y="648" width="3" height="3" fill="#00ff00"/>
<rect x="980" y="644" width="3" height="4" fill="#00ff00"/>
<rect x="996" y="637" width="3" height="11" fill="#00ff00"/>
<rect x="1012" y="632" width="3" height="16" fill="#00ff00"/>
<rect x="1028" y="627" width="3" height="21" fill="#00ff00"/>
<rect x="1044" y="627" width="3" height="21" fill="#00ff00"/>
<rect x="1060" y="627" width="3" height="21" fill="#00ff00"/>
<rect x="1076" y="624" width="3" height="24" fill="#00ff00"/>
<rect x="1092" y="617" width="3" height="31" fill="#00ff00"/>
<rect x="1108" y="609" width="3" height="39" fill="#00ff00"/>
<rect x="1124" y="602" width="3" height="46" fill="#00ff00"/>
<rect x="1140" y="599" width="3" height="49" fill="#00ff00"/>
<rect x="1156" y="597" width="3" height="51" fill="#00ff00"/>
<rect x="1172" y="593" width="3" height="55" fill="#00ff00"/>
<rect x="1188" y="592" width="3" height="56" fill="#00ff00"/>
<rect x="1204" y="592" width="3" height="56" fill="#00ff00"/>
<rect x="1220" y="594" width="3" height="54" fill="#00ff00"/>
<rect x="1236" y="598" width="3" height="50" fill="#00ff00"/>
<rect x="1252" y="601" width="3" height="47" fill="#00ff00"/>
<polyline points="5,679.4 21,681 37,685.1 53,687.6 69,687.6 85,686.6 101,684.5 117,682.1 133,678.6 149,676 165,675 181,674.3 197,673.9 213,675 229,676 245,678 261,680 277,682.7 293,683.1 309,682.7 325,681.5 341,680.7 357,678.6 373,676.6 389,673.5 405,670.5 421,667.6 437,663.9 453,660.9 469,656.8 485,653.3 501,651.6 517,650.4 533,650.0 549,651.0 565,653.1 581,656.2 597,660.3 613,665.4 629,670.1 645,674.8 661,678.2 677,681.3 693,683.3 709,683.8 725,683.8 741,682.3 757,680.9 773,679.3 789,677.2 805,674.8 821,672.7 837,671.7 853,671.5 869,670.7 885,670.1 901,669.4 917,669 933,669 949,667.4 965,665.4 981,663.3 997,659.6 1013,655.5 1029,650.8 1045,645.7 1061,640.6 1077,636.1 1093,632.4 1109,627.5 1125,623.4 1141,618.3 1157,614.2 1173,610.5 1189,607.1 1205,603 1221,599.3 1237,597.7 1253,596.6" fill="none" stroke="#ff0000" stroke-width="2" stroke-linejoin="round"/>
</g>
<line x1="6" y1="726.5" x2="1616" y2="726.5" stroke="#000" stroke-width="1" stroke-dasharray="3 3"/>
<line x1="6" y1="757.5" x2="1616" y2="757.5" stroke="#000" stroke-width="1" stroke-dasharray="3 3"/>
<line x1="6" y1="794.5" x2="1616" y2="794.5" stroke="#000" stroke-width="1" stroke-dasharray="3 3"/>
<g clip-path="url(#crsi)">
<polyline points="5,773 21,773.8 37,757.9 53,755.8 69,757.9 85,757.9 101,756.1 117,756.1 133,768.5 149,773.5 165,773.8 181,768.7 197,768.7 213,766.2 229,764.9 245,766.2 261,771 277,768.7 293,768.7 309,759.6 325,759.1 341,754.8 357,756.8 373,754.1 389,752.8 405,757.9 421,759.6 437,756.6 453,751 469,752.8 485,754.1 501,758.4 517,764.2 533,771.2 549,774.3 565,775.5 581,775.5 597,776 613,777.5 629,773.5 645,762.9 661,765.4 677,768 693,760.9 709,760.4 725,755.8 741,757.9 757,762.9 773,768.7 789,759.1 805,759.9 821,767.5 837,763.4 853,762.4 869,760.9 885,763.4 901,764.9 917,759.9 933,752.8 949,752.8 965,750.3 981,750.3 997,746.8 1013,746.8 1029,745.7 1045,751.8 1061,751.8 1077,747.8 1093,740.2 1109,738.4 1125,737.9 1141,739.7 1157,739.7 1173,737.9 1189,739.4 1205,741.5 1221,743.2 1237,746.5 1253,747.5" fill="none" stroke="#1e90ff" stroke-width="2" stroke-linejoin="round"/>
</g>
<rect x="1617" y="51" width="2" height="1" fill="#000"/>
<text x="1622" y="55" font-size="10.0" fill="#000" textLength="33" lengthAdjust="spacingAndGlyphs">0.69305</text>
<rect x="1617" y="84" width="2" height="1" fill="#000"/>
<text x="1622" y="88" font-size="10.0" fill="#000" textLength="33" lengthAdjust="spacingAndGlyphs">0.69145</text>
<rect x="1617" y="117" width="2" height="1" fill="#000"/>
<text x="1622" y="121" font-size="10.0" fill="#000" textLength="33" lengthAdjust="spacingAndGlyphs">0.68990</text>
<rect x="1617" y="150" width="2" height="1" fill="#000"/>
<text x="1622" y="154" font-size="10.0" fill="#000" textLength="33" lengthAdjust="spacingAndGlyphs">0.68830</text>
<rect x="1617" y="183" width="2" height="1" fill="#000"/>
<text x="1622" y="187" font-size="10.0" fill="#000" textLength="33" lengthAdjust="spacingAndGlyphs">0.68670</text>
<rect x="1617" y="216" width="2" height="1" fill="#000"/>
<text x="1622" y="220" font-size="10.0" fill="#000" textLength="33" lengthAdjust="spacingAndGlyphs">0.68510</text>
<rect x="1617" y="249" width="2" height="1" fill="#000"/>
<text x="1622" y="253" font-size="10.0" fill="#000" textLength="33" lengthAdjust="spacingAndGlyphs">0.68350</text>
<rect x="1617" y="282" width="2" height="1" fill="#000"/>
<text x="1622" y="286" font-size="10.0" fill="#000" textLength="33" lengthAdjust="spacingAndGlyphs">0.68190</text>
<rect x="1617" y="315" width="2" height="1" fill="#000"/>
<text x="1622" y="319" font-size="10.0" fill="#000" textLength="33" lengthAdjust="spacingAndGlyphs">0.68030</text>
<rect x="1617" y="349" width="2" height="1" fill="#000"/>
<text x="1622" y="353" font-size="10.0" fill="#000" textLength="33" lengthAdjust="spacingAndGlyphs">0.67870</text>
<rect x="1617" y="382" width="2" height="1" fill="#000"/>
<text x="1622" y="386" font-size="10.0" fill="#000" textLength="33" lengthAdjust="spacingAndGlyphs">0.67710</text>
<rect x="1617" y="415" width="2" height="1" fill="#000"/>
<text x="1622" y="419" font-size="10.0" fill="#000" textLength="33" lengthAdjust="spacingAndGlyphs">0.67550</text>
<rect x="1617" y="448" width="2" height="1" fill="#000"/>
<text x="1622" y="452" font-size="10.0" fill="#000" textLength="33" lengthAdjust="spacingAndGlyphs">0.67390</text>
<rect x="1617" y="481" width="2" height="1" fill="#000"/>
<text x="1622" y="485" font-size="10.0" fill="#000" textLength="33" lengthAdjust="spacingAndGlyphs">0.67230</text>
<rect x="1617" y="514" width="2" height="1" fill="#000"/>
<text x="1622" y="518" font-size="10.0" fill="#000" textLength="33" lengthAdjust="spacingAndGlyphs">0.67070</text>
<rect x="1617" y="547" width="2" height="1" fill="#000"/>
<text x="1622" y="551" font-size="10.0" fill="#000" textLength="33" lengthAdjust="spacingAndGlyphs">0.66910</text>
<rect x="1617" y="580" width="2" height="1" fill="#000"/>
<text x="1622" y="584" font-size="10.0" fill="#000" textLength="33" lengthAdjust="spacingAndGlyphs">0.66750</text>
<rect x="1618" y="52" width="41" height="11" fill="#ff0000"/>
<text x="1622" y="61" font-size="10.0" fill="#fff" textLength="33" lengthAdjust="spacingAndGlyphs">0.69273</text>
<rect x="1618" y="84" width="41" height="11" fill="#ff0000"/>
<text x="1622" y="93" font-size="10.0" fill="#fff" textLength="33" lengthAdjust="spacingAndGlyphs">0.69116</text>
<rect x="1618" y="126" width="41" height="11" fill="#ffa500"/>
<text x="1622" y="135" font-size="10.0" fill="#fff" textLength="33" lengthAdjust="spacingAndGlyphs">0.68914</text>
<rect x="1618" y="145" width="41" height="11" fill="#000000"/>
<text x="1622" y="154" font-size="10.0" fill="#fff" textLength="33" lengthAdjust="spacingAndGlyphs">0.68827</text>
<rect x="1618" y="187" width="41" height="11" fill="#0000ff"/>
<text x="1622" y="196" font-size="10.0" fill="#fff" textLength="33" lengthAdjust="spacingAndGlyphs">0.68621</text>
<rect x="1618" y="223" width="41" height="11" fill="#0000ff"/>
<text x="1622" y="232" font-size="10.0" fill="#fff" textLength="33" lengthAdjust="spacingAndGlyphs">0.68446</text>
<rect x="1617" y="587" width="2" height="1" fill="#000"/>
<text x="1620" y="596" font-size="10.0" fill="#000" textLength="38.5" lengthAdjust="spacingAndGlyphs">0.003818</text>
<rect x="1617" y="648" width="2" height="1" fill="#000"/>
<text x="1620" y="652" font-size="10.0" fill="#000" textLength="18" lengthAdjust="spacingAndGlyphs">0.00</text>
<rect x="1617" y="701" width="2" height="1" fill="#000"/>
<text x="1620" y="699" font-size="10.0" fill="#000" textLength="41" lengthAdjust="spacingAndGlyphs">-0.003315</text>
<rect x="1617" y="706" width="2" height="1" fill="#000"/>
<text x="1620" y="715" font-size="10.0" fill="#000" textLength="15" lengthAdjust="spacingAndGlyphs">100</text>
<text x="1619.5" y="730" font-size="10.0" fill="#000" textLength="10" lengthAdjust="spacingAndGlyphs">80</text>
<text x="1619.5" y="761" font-size="10.0" fill="#000" textLength="10" lengthAdjust="spacingAndGlyphs">50</text>
<text x="1619.5" y="798" font-size="10.0" fill="#000" textLength="10" lengthAdjust="spacingAndGlyphs">15</text>
<text x="1620" y="807" font-size="10.0" fill="#000" textLength="5.5" lengthAdjust="spacingAndGlyphs">0</text>
<rect x="5" y="811" width="1" height="3" fill="#000"/>
<text x="3.8" y="823" font-size="10.0" fill="#000" textLength="42" lengthAdjust="spacingAndGlyphs">3 Jul 2022</text>
<rect x="69" y="811" width="1" height="3" fill="#000"/>
<text x="67.8" y="823" font-size="10.0" fill="#000" textLength="45.5" lengthAdjust="spacingAndGlyphs">4 Jul 12:00</text>
<rect x="133" y="811" width="1" height="3" fill="#000"/>
<text x="131.8" y="823" font-size="10.0" fill="#000" textLength="45.5" lengthAdjust="spacingAndGlyphs">5 Jul 04:00</text>
<rect x="197" y="811" width="1" height="3" fill="#000"/>
<text x="195.8" y="823" font-size="10.0" fill="#000" textLength="45.5" lengthAdjust="spacingAndGlyphs">5 Jul 20:00</text>
<rect x="261" y="811" width="1" height="3" fill="#000"/>
<text x="259.8" y="823" font-size="10.0" fill="#000" textLength="45.5" lengthAdjust="spacingAndGlyphs">6 Jul 12:00</text>
<rect x="325" y="811" width="1" height="3" fill="#000"/>
<text x="323.8" y="823" font-size="10.0" fill="#000" textLength="45.5" lengthAdjust="spacingAndGlyphs">7 Jul 04:00</text>
<rect x="389" y="811" width="1" height="3" fill="#000"/>
<text x="387.8" y="823" font-size="10.0" fill="#000" textLength="45.5" lengthAdjust="spacingAndGlyphs">7 Jul 20:00</text>
<rect x="453" y="811" width="1" height="3" fill="#000"/>
<text x="451.8" y="823" font-size="10.0" fill="#000" textLength="45.5" lengthAdjust="spacingAndGlyphs">8 Jul 12:00</text>
<rect x="517" y="811" width="1" height="3" fill="#000"/>
<text x="515.8" y="823" font-size="10.0" fill="#000" textLength="50.5" lengthAdjust="spacingAndGlyphs">11 Jul 04:00</text>
<rect x="581" y="811" width="1" height="3" fill="#000"/>
<text x="579.8" y="823" font-size="10.0" fill="#000" textLength="50.5" lengthAdjust="spacingAndGlyphs">11 Jul 20:00</text>
<rect x="645" y="811" width="1" height="3" fill="#000"/>
<text x="643.8" y="823" font-size="10.0" fill="#000" textLength="50.5" lengthAdjust="spacingAndGlyphs">12 Jul 12:00</text>
<rect x="709" y="811" width="1" height="3" fill="#000"/>
<text x="707.8" y="823" font-size="10.0" fill="#000" textLength="50.5" lengthAdjust="spacingAndGlyphs">13 Jul 04:00</text>
<rect x="773" y="811" width="1" height="3" fill="#000"/>
<text x="771.8" y="823" font-size="10.0" fill="#000" textLength="50.5" lengthAdjust="spacingAndGlyphs">13 Jul 20:00</text>
<rect x="837" y="811" width="1" height="3" fill="#000"/>
<text x="835.8" y="823" font-size="10.0" fill="#000" textLength="50.5" lengthAdjust="spacingAndGlyphs">14 Jul 12:00</text>
<rect x="901" y="811" width="1" height="3" fill="#000"/>
<text x="899.8" y="823" font-size="10.0" fill="#000" textLength="50.5" lengthAdjust="spacingAndGlyphs">15 Jul 04:00</text>
<rect x="965" y="811" width="1" height="3" fill="#000"/>
<text x="963.8" y="823" font-size="10.0" fill="#000" textLength="50.5" lengthAdjust="spacingAndGlyphs">17 Jul 23:00</text>
<rect x="1029" y="811" width="1" height="3" fill="#000"/>
<text x="1027.8" y="823" font-size="10.0" fill="#000" textLength="50.5" lengthAdjust="spacingAndGlyphs">18 Jul 12:00</text>
<rect x="1093" y="811" width="1" height="3" fill="#000"/>
<text x="1091.8" y="823" font-size="10.0" fill="#000" textLength="50.5" lengthAdjust="spacingAndGlyphs">19 Jul 04:00</text>
<rect x="1157" y="811" width="1" height="3" fill="#000"/>
<text x="1155.8" y="823" font-size="10.0" fill="#000" textLength="50.5" lengthAdjust="spacingAndGlyphs">19 Jul 20:00</text>
<rect x="1221" y="811" width="1" height="3" fill="#000"/>
<text x="1219.8" y="823" font-size="10.0" fill="#000" textLength="50.5" lengthAdjust="spacingAndGlyphs">20 Jul 12:00</text>
<polygon points="8,33 15,33 11.5,36.8" fill="#000"/>
<text x="20" y="38" font-size="10.0" fill="#000" textLength="59.5" lengthAdjust="spacingAndGlyphs">AUDUSD-,H4</text>
<text x="85" y="38" font-size="10.0" fill="#000" textLength="141.5" lengthAdjust="spacingAndGlyphs">0.68849 0.68878 0.68824 0.68827</text>
<text x="9" y="598" font-size="10.0" fill="#000" textLength="66.5" lengthAdjust="spacingAndGlyphs">MACD(12,26,9)</text>
<text x="77.8" y="598" font-size="10.0" fill="#000" textLength="38.8" lengthAdjust="spacingAndGlyphs">0.002948</text>
<text x="118.8" y="598" font-size="10.0" fill="#000" textLength="38.8" lengthAdjust="spacingAndGlyphs">0.003216</text>
<text x="9.2" y="717" font-size="10.0" fill="#000" textLength="32.2" lengthAdjust="spacingAndGlyphs">RSI(14)</text>
<text x="44" y="717" font-size="10.0" fill="#000" textLength="33.4" lengthAdjust="spacingAndGlyphs">59.7966</text>
</g>
</svg>
</body></html>
